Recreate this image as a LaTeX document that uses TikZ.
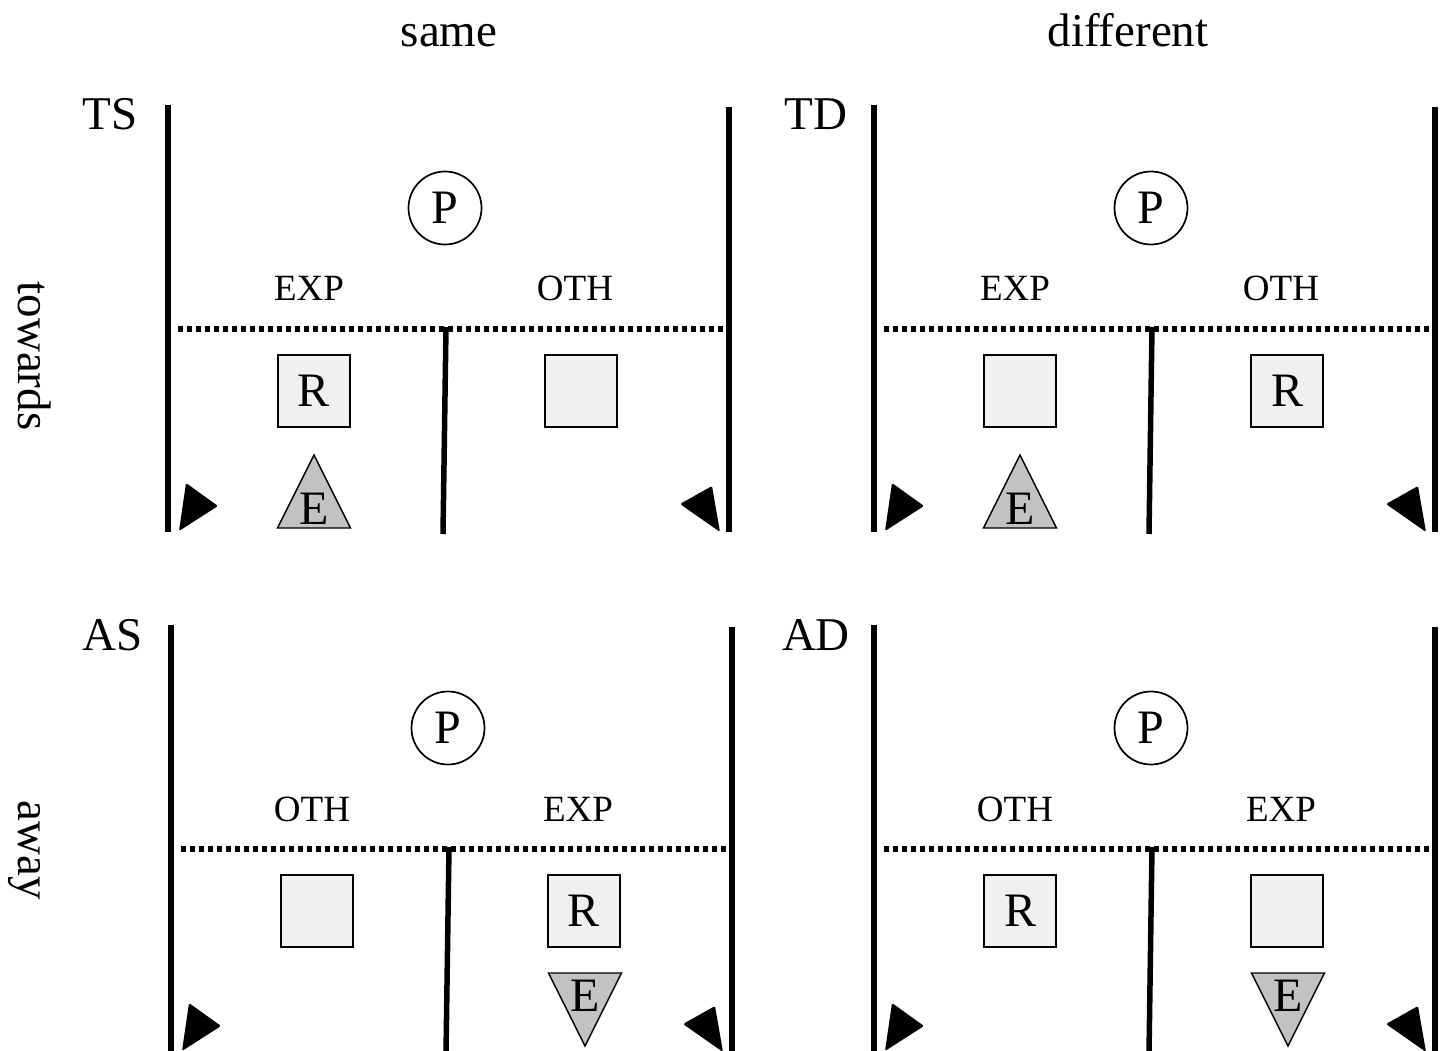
\documentclass[tikz,border=0pt]{standalone}
\usepackage{fontspec}
\setmainfont{Liberation Serif}
\usepackage{tikz}
\usetikzlibrary{positioning}

\definecolor{boxgray}{gray}{0.94}
\definecolor{tokengray}{gray}{0.76}

\begin{document}
\begin{tikzpicture}[x=1pt, y=-1pt,
    wall/.style={line width=5.5pt},
    midline/.style={line width=5.5pt, dash pattern=on 5pt off 4pt},
    roombox/.style={draw, fill=boxgray, line width=1.4pt, minimum size=72pt, inner sep=0pt, font=\fontsize{48}{56}\selectfont},
    pcircle/.style={draw, circle, line width=1.7pt, minimum size=73pt, inner sep=0pt, font=\fontsize{48}{56}\selectfont},
    token/.style={draw, fill=tokengray, line width=1.4pt},
    big/.style={font=\fontsize{47}{56}\selectfont},
    side/.style={font=\fontsize{37}{44}\selectfont, anchor=base}]
  \useasboundingbox (0,0) rectangle (1444,1051);

  % column and row titles
  \node[big, anchor=base] (same) at (449,47) {same};
  \node[big, anchor=base] (different) at (1128,47) {different};
  \node[big, rotate=-90, anchor=base] (towards) at (19,356) {towards};
  \node[big, rotate=-90, anchor=base] (away) at (19,850) {away};

  % the four panels
  \foreach \ox/\oy/\tag/\lab/\rab/\lr/\rr/\ex/\ta/\tb/\ty in {
      168/105/TS/EXP/OTH/R//146/350/423/404,
      874/105/TD/EXP/OTH//R/146/350/423/404,
      171/625/AS/OTH/EXP//R/414/421/348/371,
      874/625/AD/OTH/EXP/R//414/421/348/371}
  {
    \begin{scope}[shift={(\ox,\oy)}]
      % walls and corridor
      \draw[wall] (0,0) -- (0,427);
      \draw[wall] (561,2) -- (561,427);
      \draw[midline] (10,224) -- (556,224);
      \coordinate (top\tag) at (278,222);
      \coordinate (bot\tag) at (275,429);
      \draw[wall] (top\tag) -- (bot\tag);

      % panel name
      \node[big, anchor=base] (name\tag) at (-58,25) {\tag};

      % P and the two sides
      \node[pcircle] (P\tag) at (277,103) {P};
      \node[side] (left\tag) at (141,196) {\lab};
      \node[side] (right\tag) at (407,196) {\rab};
      \node[roombox] (lbox\tag) at (146,286) {\lr};
      \node[roombox] (rbox\tag) at (413,286) {\rr};

      % E token
      \draw[token] (\ex,\ta) -- (\ex+36.5,\tb) -- (\ex-36.5,\tb) -- cycle;
      \node[font=\fontsize{48}{56}\selectfont] (E\tag) at (\ex,\ty) {E};

      % entry marks
      \fill[rounded corners=1.5pt] (18,378) -- (50,401) -- (11,426) -- cycle;
      \fill[rounded corners=1.5pt] (544,381) -- (512,399) -- (552,427) -- cycle;
    \end{scope}
  }
\end{tikzpicture}
\end{document}
